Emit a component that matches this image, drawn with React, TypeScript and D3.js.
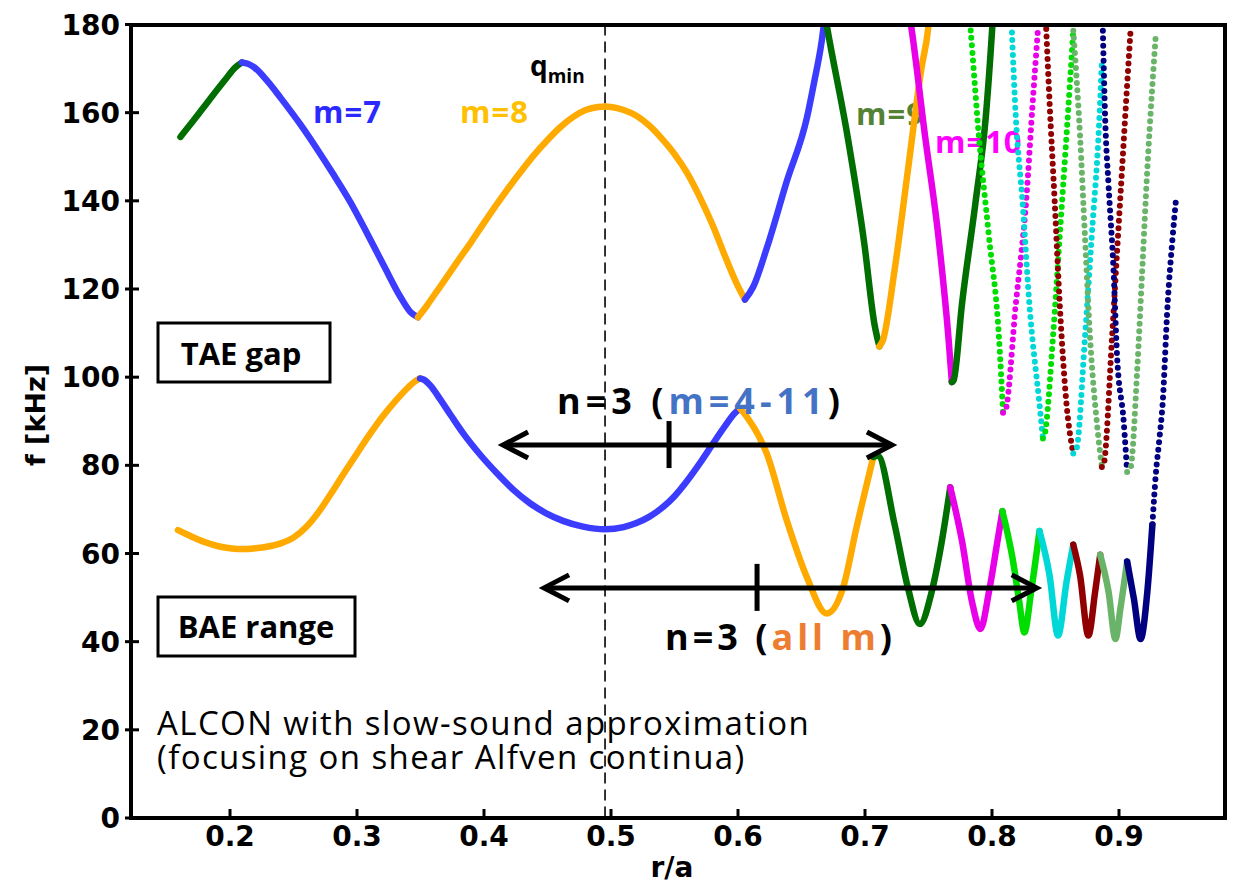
import React from "react";
import * as d3 from "d3";

const W = 1235;
const H = 885;

// ---- axes ----
const xTicks = [0.2, 0.3, 0.4, 0.5, 0.6, 0.7, 0.8, 0.9];
const yTicks = [0, 20, 40, 60, 80, 100, 120, 140, 160, 180];
const qminR = 0.4953;

// ---- upper continuum (TAE-gap upper boundary), [r/a, f kHz] ----
const upM6 = [[0.161, 154.5], [0.172, 158.5], [0.184, 163.0], [0.196, 167.4], [0.204, 170.2], [0.2094, 171.4]];
const upM7a = [[0.2094, 171.4], [0.214, 171.1], [0.219, 170.3], [0.229, 167.3], [0.24, 163.3], [0.255, 157.5], [0.268, 152.0], [0.281, 146.2], [0.295, 139.6], [0.308, 132.6], [0.322, 124.8], [0.334, 118.3], [0.342, 114.8], [0.348, 113.6]];
const upM8a = [[0.348, 113.6], [0.355, 116.2], [0.36, 118.3], [0.37, 122.4], [0.38, 126.6], [0.39, 130.7], [0.40, 135.0], [0.41, 139.2], [0.42, 143.2], [0.43, 147.0], [0.44, 150.6], [0.45, 153.8], [0.46, 156.7], [0.47, 159.0], [0.48, 160.6], [0.49, 161.3], [0.4953, 161.4], [0.50, 161.3], [0.51, 160.6], [0.52, 159.3], [0.53, 157.1], [0.54, 154.1], [0.55, 150.6], [0.56, 146.3], [0.57, 140.8], [0.58, 134.5], [0.59, 127.3], [0.60, 120.6], [0.6055, 117.6]];
const upM7b = [[0.6055, 117.6], [0.612, 120.5], [0.6228, 129.4], [0.6386, 144.6], [0.6543, 158.9], [0.66, 167.0], [0.666, 176.4], [0.6685, 182.0]];
const upM9a = [[0.668, 183.0], [0.6702, 179.3], [0.6861, 154.9], [0.6994, 130.4], [0.7074, 112.1], [0.7113, 107.0]];
const upM8b = [[0.7113, 107.0], [0.714, 108.3], [0.7233, 124.3], [0.7339, 147.2], [0.7445, 170.2], [0.7498, 179.3], [0.751, 183.0]];
const upM10a = [[0.734, 184.0], [0.7365, 179.3], [0.7472, 154.9], [0.7578, 131.9], [0.7657, 109.0], [0.7684, 98.9]];
const upM9b = [[0.7684, 98.9], [0.7698, 99.3], [0.7764, 116.7], [0.787, 139.6], [0.795, 158.7], [0.8002, 179.3], [0.801, 183.0]];
const upM11a = [[0.7822, 182.0], [0.783, 179.3], [0.7896, 154.9], [0.7976, 131.9], [0.8055, 109.0], [0.8087, 91.9]];
const upM10b = [[0.8087, 91.9], [0.8103, 92.2], [0.8188, 116.7], [0.8268, 139.6], [0.8321, 162.5], [0.8361, 178.6]];
const upM12a = [[0.8157, 178.2], [0.8188, 158.7], [0.8241, 139.6], [0.8294, 116.7], [0.8374, 93.8], [0.8401, 86.1]];
const upM11b = [[0.8401, 86.1], [0.8414, 86.9], [0.848, 109.0], [0.8533, 131.9], [0.8587, 154.9], [0.864, 178.6]];
const upM13a = [[0.8427, 179.0], [0.8453, 162.5], [0.8494, 139.6], [0.8533, 116.7], [0.8587, 93.8], [0.864, 82.7]];
const upM12b = [[0.864, 82.7], [0.8666, 83.8], [0.8732, 109.0], [0.8785, 131.9], [0.8839, 154.9], [0.8865, 171.6]];
const upM14a = [[0.864, 178.6], [0.8693, 154.9], [0.8732, 131.9], [0.8772, 109.0], [0.8825, 89.9], [0.8865, 79.6]];
const upM13b = [[0.8865, 79.6], [0.8878, 80.0], [0.8945, 109.0], [0.8984, 128.1], [0.9024, 147.2], [0.9064, 166.3], [0.909, 178.2]];
const upM15a = [[0.8873, 178.6], [0.8891, 158.7], [0.8918, 143.4], [0.8957, 124.3], [0.8984, 105.2], [0.9037, 89.9], [0.9064, 78.5]];
const upM14b = [[0.9064, 78.5], [0.909, 79.3], [0.9143, 101.4], [0.9183, 124.3], [0.9223, 147.2], [0.9263, 166.3], [0.929, 177.8]];

// ---- lower continuum (below TAE gap) ----
const loM8a = [[0.159, 65.3], [0.17, 63.8], [0.18, 62.6], [0.19, 61.7], [0.20, 61.2], [0.21, 61.0], [0.22, 61.2], [0.23, 61.6], [0.24, 62.3], [0.25, 63.6], [0.26, 66.0], [0.27, 69.5], [0.28, 73.8], [0.29, 78.3], [0.30, 82.7], [0.31, 87.0], [0.32, 91.0], [0.33, 94.5], [0.34, 97.6], [0.345, 98.9], [0.3496, 99.7]];
const loM7 = [[0.3496, 99.7], [0.353, 99.4], [0.358, 98.0], [0.365, 95.2], [0.374, 91.3], [0.3835, 87.3], [0.397, 82.4], [0.4102, 78.2], [0.423, 74.5], [0.4362, 71.4], [0.449, 69.1], [0.4622, 67.4], [0.478, 66.1], [0.4953, 65.5], [0.51, 66.0], [0.52, 66.9], [0.53, 68.3], [0.54, 70.3], [0.55, 73.0], [0.56, 76.5], [0.57, 80.5], [0.58, 84.8], [0.59, 89.0], [0.597, 91.7], [0.6016, 92.9]];
const loM8b = [[0.6016, 92.9], [0.607, 91.0], [0.6226, 82.7], [0.6383, 67.6], [0.6541, 54.7], [0.6698, 46.4], [0.6829, 52.4], [0.6934, 66.0], [0.7066, 81.9]];
const loM9 = [[0.7066, 81.9], [0.71, 82.2], [0.7233, 66.6], [0.7339, 52.1], [0.7432, 44.0], [0.7525, 51.3], [0.7605, 62.8], [0.7671, 75.0]];
const loM10 = [[0.7671, 75.0], [0.7764, 62.8], [0.7843, 49.0], [0.7909, 42.9], [0.7976, 51.3], [0.8043, 62.8], [0.8082, 69.6]];
const loM11 = [[0.8082, 69.6], [0.8162, 58.9], [0.8215, 49.0], [0.8255, 42.1], [0.8308, 51.3], [0.8374, 65.1]];
const loM12 = [[0.8374, 65.1], [0.8453, 55.1], [0.852, 41.4], [0.8587, 53.6], [0.864, 62.0]];
const loM13 = [[0.864, 62.0], [0.8693, 55.1], [0.8759, 41.4], [0.8812, 51.3], [0.8852, 59.7]];
const loM14 = [[0.8852, 59.7], [0.8918, 51.3], [0.8972, 40.6], [0.9011, 47.5], [0.9064, 58.2]];
const loM15 = [[0.9064, 58.2], [0.9117, 49.8], [0.917, 40.6], [0.9223, 51.3], [0.9263, 66.6]];
const loM15up = [[0.9263, 66.6], [0.929, 78.0], [0.9317, 85.7], [0.9343, 93.8], [0.9383, 116.7], [0.9423, 132.0], [0.9449, 140.4]];

// ---- mode colours ----
const cBlue = "#3c3cff";
const cOrange = "#ffaa00";
const cDGreen = "#006e00";
const cMagenta = "#e800e8";
const cLime = "#00dd00";
const cCyan = "#00d8d8";
const cDRed = "#900000";
const cLGreen = "#6ab46a";
const cNavy = "#000080";

type Seg = { pts: number[][]; color: string; dotted?: boolean };
const segments: Seg[] = [
  { pts: upM6, color: cDGreen },
  { pts: upM7a, color: cBlue },
  { pts: upM8a, color: cOrange },
  { pts: upM7b, color: cBlue },
  { pts: upM9a, color: cDGreen },
  { pts: upM8b, color: cOrange },
  { pts: upM10a, color: cMagenta },
  { pts: upM9b, color: cDGreen },
  { pts: loM8a, color: cOrange },
  { pts: loM7, color: cBlue },
  { pts: loM8b, color: cOrange },
  { pts: loM9, color: cDGreen },
  { pts: loM10, color: cMagenta },
  { pts: loM11, color: cLime },
  { pts: loM12, color: cCyan },
  { pts: loM13, color: cDRed },
  { pts: loM14, color: cLGreen },
  { pts: loM15, color: cNavy },
  { pts: upM11a, color: cLime, dotted: true },
  { pts: upM10b, color: cMagenta, dotted: true },
  { pts: upM12a, color: cCyan, dotted: true },
  { pts: upM11b, color: cLime, dotted: true },
  { pts: upM13a, color: cDRed, dotted: true },
  { pts: upM12b, color: cCyan, dotted: true },
  { pts: upM14a, color: cLGreen, dotted: true },
  { pts: upM13b, color: cDRed, dotted: true },
  { pts: upM15a, color: cNavy, dotted: true },
  { pts: upM14b, color: cLGreen, dotted: true },
  { pts: loM15up, color: cNavy, dotted: true },
];

export default function App() {
  const left = 131, right = 1225, top = 25, bottom = 818;
  const x = d3.scaleLinear().domain([0.2, 0.9]).range([230, 1119]);
  const y = d3.scaleLinear().domain([0, 180]).range([818, 24.5]);
  const line = d3
    .line<number[]>()
    .x((d) => x(d[0]))
    .y((d) => y(d[1]))
    .curve(d3.curveMonotoneX);

  const tickFont = "'DejaVu Sans', sans-serif";
  const annFont = "'Open Sans', 'Noto Sans', sans-serif";

  // annotation arrows (data coords)
  const arrows = [
    { r0: 0.4142, r1: 0.722, f: 84.6, tick: 0.5457 },
    { r0: 0.4465, r1: 0.836, f: 52.2, tick: 0.615 },
  ];

  return (
    <svg
      width={W}
      height={H}
      style={{ position: "absolute", left: 0, top: 0, background: "#fff" }}
    >
      <defs>
        <clipPath id="plotclip">
          <rect x={left + 2} y={top + 2} width={right - left - 4} height={bottom - top - 4} />
        </clipPath>
      </defs>
      <rect x={0} y={0} width={W} height={H} fill="#fff" />

      {/* q_min dashed line */}
      <line
        x1={x(qminR)}
        x2={x(qminR)}
        y1={y(180)}
        y2={y(0)}
        stroke="#000"
        strokeWidth={1.6}
        strokeDasharray="11 6"
      />

      {/* mode labels */}
      <g fontFamily={annFont} fontWeight={700} fontSize={31}>
        <text x={x(0.2654)} y={y(157.6)} fill="#2a2aff" letterSpacing={1}>m=7</text>
        <text x={x(0.3811)} y={y(157.6)} fill="#ffc000" letterSpacing={1}>m=8</text>
        <text x={x(0.6929)} y={y(157.1)} fill="#548235" letterSpacing={1}>m=9</text>
        <text x={x(0.7551)} y={y(150.8)} fill="#ff00ff" letterSpacing={1}>m=10</text>
      </g>
      <text x={x(0.4362)} y={y(168.4)} fontFamily={annFont} fontWeight={700} fontSize={28} fill="#000">
        q<tspan fontSize={19} dy={7}>min</tspan>
      </text>

      {/* continua */}
      <g clipPath="url(#plotclip)" fill="none">
        {segments.map((s, i) => (
          <path
            key={i}
            d={line(s.pts) || ""}
            stroke={s.color}
            strokeWidth={s.dotted ? 6 : 6.5}
            strokeLinecap="round"
            strokeLinejoin="round"
            strokeDasharray={s.dotted ? "0 7.5" : undefined}
          />
        ))}
      </g>

      {/* arrows */}
      {arrows.map((a, i) => {
        const x0 = x(a.r0), x1 = x(a.r1), yy = y(a.f), xt = x(a.tick);
        return (
          <g key={i} stroke="#000" strokeWidth={5} fill="none">
            <line x1={x0 + 2} x2={x1 - 2} y1={yy} y2={yy} />
            <polyline points={`${x0 + 26},${yy - 13} ${x0 + 1},${yy} ${x0 + 26},${yy + 13}`} strokeLinejoin="miter" />
            <polyline points={`${x1 - 26},${yy - 13} ${x1 - 1},${yy} ${x1 - 26},${yy + 13}`} strokeLinejoin="miter" />
            <line x1={xt} x2={xt} y1={yy - 24} y2={yy + 23} />
          </g>
        );
      })}

      {/* n=3 texts */}
      <text x={557} y={414} fontFamily={annFont} fontWeight={700} fontSize={36} letterSpacing={5} fill="#000">
        n=3 (<tspan fill="#4472c4">m=4-11</tspan>)
      </text>
      <text x={665} y={650} fontFamily={annFont} fontWeight={700} fontSize={36} letterSpacing={4} fill="#000">
        n=3 (<tspan fill="#ed7d31">all m</tspan>)
      </text>

      {/* boxes */}
      <rect x={158} y={323} width={172} height={59} fill="#fff" stroke="#000" strokeWidth={3} />
      <text x={241} y={365} textAnchor="middle" fontFamily={annFont} fontWeight={700} fontSize={31} fill="#000">TAE gap</text>
      <rect x={158} y={597} width={197} height={59} fill="#fff" stroke="#000" strokeWidth={3} />
      <text x={256} y={638} textAnchor="middle" fontFamily={annFont} fontWeight={700} fontSize={31} fill="#000">BAE range</text>

      {/* ALCON note */}
      <text x={157} y={735} fontFamily={annFont} fontSize={33} letterSpacing={1.4} fill="#000">ALCON with slow-sound approximation</text>
      <text x={157} y={769} fontFamily={annFont} fontSize={33} letterSpacing={1.4} fill="#000">(focusing on shear Alfven continua)</text>

      {/* frame */}
      <rect x={left} y={top} width={right - left} height={bottom - top} fill="none" stroke="#000" strokeWidth={4} />

      {/* ticks */}
      <g stroke="#000" strokeWidth={3}>
        {xTicks.map((t) => (
          <line key={t} x1={x(t)} x2={x(t)} y1={bottom} y2={bottom - 9} />
        ))}
        {yTicks.map((t) => (
          <line key={t} x1={left - 6} x2={left + 8} y1={y(t)} y2={y(t)} />
        ))}
      </g>
      <g fontFamily={tickFont} fontWeight={700} fontSize={28} fill="#000">
        {xTicks.map((t) => (
          <text key={t} x={x(t)} y={846} textAnchor="middle">{d3.format(".1f")(t)}</text>
        ))}
        {yTicks.map((t) => (
          <text key={t} x={120} y={y(t) + 10} textAnchor="end">{t}</text>
        ))}
      </g>
      <text x={672} y={877} textAnchor="middle" fontFamily={tickFont} fontWeight={700} fontSize={28}>r/a</text>
      <text
        transform={`translate(45,415) rotate(-90)`}
        textAnchor="middle"
        fontFamily={tickFont}
        fontWeight={700}
        fontSize={27}
      >
        f [kHz]
      </text>
    </svg>
  );
}
